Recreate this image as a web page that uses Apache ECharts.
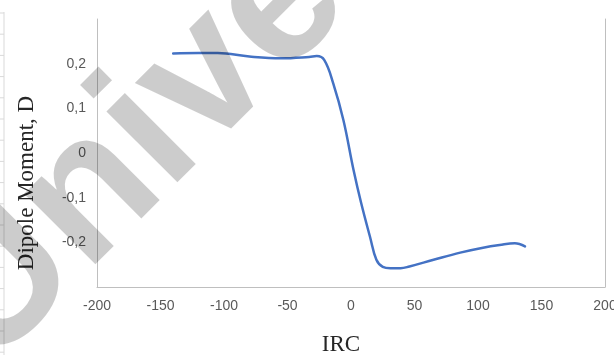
<!DOCTYPE html>
<html>
<head>
<meta charset="utf-8">
<script src="https://cdn.jsdelivr.net/npm/echarts@6/dist/echarts.min.js"></script>
<style>
  html, body { margin: 0; padding: 0; background: #fff; }
  #chart { width: 614px; height: 355px; }
</style>
</head>
<body>
<div id="chart"></div>
<script>
// IRC coordinate along the reaction path
const ircValues = [-140, -120, -105, -80, -55, -33, -27, -21, -14, -6, 2, 8, 15, 20, 25, 31, 39, 46, 65, 86, 104, 117, 129, 137];
// Dipole moment (D) at each IRC point
const dipoleValues = [0.223, 0.224, 0.224, 0.216, 0.212, 0.215, 0.217, 0.208, 0.156, 0.074, -0.038, -0.112, -0.188, -0.239, -0.255, -0.258, -0.258, -0.254, -0.239, -0.223, -0.212, -0.206, -0.202, -0.209];

const xTicks = { min: -200, max: 200, step: 50 };
const yTicks = { min: -0.3, max: 0.3, step: 0.1 };

const seriesData = ircValues.map((x, i) => [x, dipoleValues[i]]);

function commaDecimal(v) {
  const r = Math.round(v * 10) / 10;
  if (Math.abs(r) > 0.25) return '';
  return String(r).replace('.', ',');
}

const chart = echarts.init(document.getElementById('chart'), null, { renderer: 'canvas' });

// faint ruler along the left edge
const rulerMarks = [];
for (let y = 13; y < 355; y += 21.2) {
  rulerMarks.push({
    type: 'line', silent: true, z: 1,
    shape: { x1: 0, y1: y, x2: 4, y2: y },
    style: { stroke: '#d9d9d9', lineWidth: 1 }
  });
}

chart.setOption({
  animation: false,
  backgroundColor: '#ffffff',
  grid: { left: 97, right: 9, top: 19, bottom: 68, containLabel: false, outerBoundsMode: 'none' },
  xAxis: {
    type: 'value',
    min: xTicks.min, max: xTicks.max, interval: xTicks.step,
    name: 'IRC',
    nameLocation: 'middle',
    nameGap: 46,
    nameTextStyle: { fontFamily: 'Liberation Serif', fontSize: 23, color: '#262626', padding: [0, 20, 0, 0] },
    axisLine: { show: true, onZero: false, lineStyle: { color: '#bfbfbf', width: 1 } },
    axisTick: { show: false },
    splitLine: { show: false },
    axisLabel: { color: '#595959', fontFamily: 'Liberation Sans', fontSize: 14, margin: 12 }
  },
  yAxis: [{
    type: 'value',
    min: yTicks.min, max: yTicks.max, interval: yTicks.step,
    name: 'Dipole Moment, D',
    nameLocation: 'middle',
    nameGap: 59,
    nameTextStyle: { fontFamily: 'Liberation Serif', fontSize: 23, color: '#262626', padding: [0, 60, 0, 0] },
    axisLine: { show: true, onZero: false, lineStyle: { color: '#bfbfbf', width: 1 } },
    axisTick: { show: false },
    splitLine: { show: false },
    axisLabel: { color: '#595959', fontFamily: 'Liberation Sans', fontSize: 14, margin: 11, formatter: commaDecimal }
  }, {
    type: 'value',
    position: 'right',
    min: yTicks.min, max: yTicks.max, interval: yTicks.step,
    axisLine: { show: true, onZero: false, lineStyle: { color: '#bfbfbf', width: 1 } },
    axisTick: { show: false },
    splitLine: { show: false },
    axisLabel: { show: false }
  }],
  series: [{
    type: 'line',
    data: seriesData,
    yAxisIndex: 0,
    smooth: 0.4,
    symbol: 'none',
    lineStyle: { color: '#4472c4', width: 2.5, cap: 'round', join: 'round' },
    z: 3
  }],
  graphic: [
    { type: 'line', silent: true, z: 1, shape: { x1: 4, y1: 12, x2: 4, y2: 355 }, style: { stroke: '#d9d9d9', lineWidth: 1 } },
    ...rulerMarks,
    {
      type: 'text', silent: true, z: 100,
      x: 19, y: 401,
      rotation: 45 * Math.PI / 180,
      style: {
        text: 'Universidad',
        font: 'bold 190px "Liberation Sans"',
        fill: 'rgba(0,0,0,0.2)',
        align: 'left',
        verticalAlign: 'bottom'
      }
    }
  ]
});
</script>
</body>
</html>
